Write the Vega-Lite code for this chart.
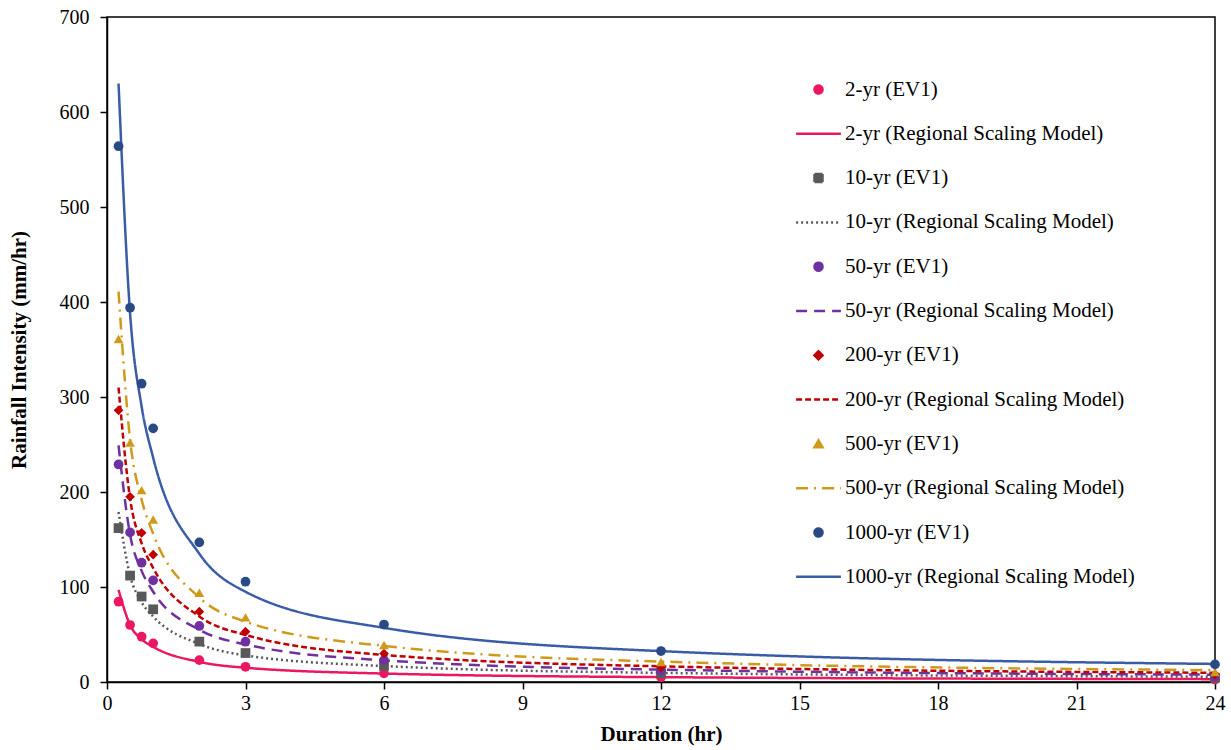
{
  "$schema": "https://vega.github.io/schema/vega-lite/v6.json",
  "width": 1108,
  "height": 665,
  "autosize": {"type": "none"},
  "padding": {"left": 107, "top": 17, "right": 16, "bottom": 68},
  "background": "white",
  "config": {
    "view": {"stroke": "black", "strokeWidth": 1.5},
    "font": "Liberation Serif",
    "axis": {
      "domainColor": "black", "domainWidth": 1.5, "tickColor": "black", "tickWidth": 1.5, "tickSize": 7,
      "labelColor": "black", "labelFont": "Liberation Serif", "labelFontSize": 20,
      "titleColor": "black", "titleFont": "Liberation Serif", "titleFontSize": 21, "titleFontWeight": "bold",
      "grid": false, "labelFlush": false
    }
  },
  "data": {"values": [
    {"series": "2-yr (EV1)", "type": "EV1", "d": 0.25, "v": 84.5},
    {"series": "2-yr (EV1)", "type": "EV1", "d": 0.5, "v": 60},
    {"series": "2-yr (EV1)", "type": "EV1", "d": 0.75, "v": 47.7},
    {"series": "2-yr (EV1)", "type": "EV1", "d": 1, "v": 40.7},
    {"series": "2-yr (EV1)", "type": "EV1", "d": 2, "v": 23},
    {"series": "2-yr (EV1)", "type": "EV1", "d": 3, "v": 16},
    {"series": "2-yr (EV1)", "type": "EV1", "d": 6, "v": 9.1},
    {"series": "2-yr (EV1)", "type": "EV1", "d": 12, "v": 5},
    {"series": "2-yr (EV1)", "type": "EV1", "d": 24, "v": 2.5},
    {"series": "10-yr (EV1)", "type": "EV1", "d": 0.25, "v": 162},
    {"series": "10-yr (EV1)", "type": "EV1", "d": 0.5, "v": 112},
    {"series": "10-yr (EV1)", "type": "EV1", "d": 0.75, "v": 90},
    {"series": "10-yr (EV1)", "type": "EV1", "d": 1, "v": 76.5},
    {"series": "10-yr (EV1)", "type": "EV1", "d": 2, "v": 42.5},
    {"series": "10-yr (EV1)", "type": "EV1", "d": 3, "v": 30.5},
    {"series": "10-yr (EV1)", "type": "EV1", "d": 6, "v": 17},
    {"series": "10-yr (EV1)", "type": "EV1", "d": 12, "v": 9},
    {"series": "10-yr (EV1)", "type": "EV1", "d": 24, "v": 4.5},
    {"series": "50-yr (EV1)", "type": "EV1", "d": 0.25, "v": 229},
    {"series": "50-yr (EV1)", "type": "EV1", "d": 0.5, "v": 157.5},
    {"series": "50-yr (EV1)", "type": "EV1", "d": 0.75, "v": 125.6},
    {"series": "50-yr (EV1)", "type": "EV1", "d": 1, "v": 107},
    {"series": "50-yr (EV1)", "type": "EV1", "d": 2, "v": 59},
    {"series": "50-yr (EV1)", "type": "EV1", "d": 3, "v": 42.4},
    {"series": "50-yr (EV1)", "type": "EV1", "d": 6, "v": 23},
    {"series": "50-yr (EV1)", "type": "EV1", "d": 12, "v": 12},
    {"series": "50-yr (EV1)", "type": "EV1", "d": 24, "v": 6},
    {"series": "200-yr (EV1)", "type": "EV1", "d": 0.25, "v": 286},
    {"series": "200-yr (EV1)", "type": "EV1", "d": 0.5, "v": 195},
    {"series": "200-yr (EV1)", "type": "EV1", "d": 0.75, "v": 157},
    {"series": "200-yr (EV1)", "type": "EV1", "d": 1, "v": 134},
    {"series": "200-yr (EV1)", "type": "EV1", "d": 2, "v": 74},
    {"series": "200-yr (EV1)", "type": "EV1", "d": 3, "v": 53},
    {"series": "200-yr (EV1)", "type": "EV1", "d": 6, "v": 30},
    {"series": "200-yr (EV1)", "type": "EV1", "d": 12, "v": 15.5},
    {"series": "200-yr (EV1)", "type": "EV1", "d": 24, "v": 8},
    {"series": "500-yr (EV1)", "type": "EV1", "d": 0.25, "v": 361},
    {"series": "500-yr (EV1)", "type": "EV1", "d": 0.5, "v": 252},
    {"series": "500-yr (EV1)", "type": "EV1", "d": 0.75, "v": 202},
    {"series": "500-yr (EV1)", "type": "EV1", "d": 1, "v": 171},
    {"series": "500-yr (EV1)", "type": "EV1", "d": 2, "v": 94},
    {"series": "500-yr (EV1)", "type": "EV1", "d": 3, "v": 68},
    {"series": "500-yr (EV1)", "type": "EV1", "d": 6, "v": 39},
    {"series": "500-yr (EV1)", "type": "EV1", "d": 12, "v": 21},
    {"series": "500-yr (EV1)", "type": "EV1", "d": 24, "v": 10.5},
    {"series": "1000-yr (EV1)", "type": "EV1", "d": 0.25, "v": 564},
    {"series": "1000-yr (EV1)", "type": "EV1", "d": 0.5, "v": 394},
    {"series": "1000-yr (EV1)", "type": "EV1", "d": 0.75, "v": 314},
    {"series": "1000-yr (EV1)", "type": "EV1", "d": 1, "v": 267},
    {"series": "1000-yr (EV1)", "type": "EV1", "d": 2, "v": 147},
    {"series": "1000-yr (EV1)", "type": "EV1", "d": 3, "v": 105.6},
    {"series": "1000-yr (EV1)", "type": "EV1", "d": 6, "v": 60.5},
    {"series": "1000-yr (EV1)", "type": "EV1", "d": 12, "v": 32.6},
    {"series": "1000-yr (EV1)", "type": "EV1", "d": 24, "v": 18.5},

    {"series": "2-yr (Regional Scaling Model)", "type": "model", "d": 0.25, "v": 97},
    {"series": "2-yr (Regional Scaling Model)", "type": "model", "d": 0.5, "v": 60},
    {"series": "2-yr (Regional Scaling Model)", "type": "model", "d": 0.75, "v": 45},
    {"series": "2-yr (Regional Scaling Model)", "type": "model", "d": 1, "v": 37},
    {"series": "2-yr (Regional Scaling Model)", "type": "model", "d": 2, "v": 21.2},
    {"series": "2-yr (Regional Scaling Model)", "type": "model", "d": 3, "v": 15},
    {"series": "2-yr (Regional Scaling Model)", "type": "model", "d": 6, "v": 8.9},
    {"series": "2-yr (Regional Scaling Model)", "type": "model", "d": 12, "v": 5.1},
    {"series": "2-yr (Regional Scaling Model)", "type": "model", "d": 24, "v": 3},
    {"series": "10-yr (Regional Scaling Model)", "type": "model", "d": 0.25, "v": 179},
    {"series": "10-yr (Regional Scaling Model)", "type": "model", "d": 0.5, "v": 112},
    {"series": "10-yr (Regional Scaling Model)", "type": "model", "d": 0.75, "v": 84},
    {"series": "10-yr (Regional Scaling Model)", "type": "model", "d": 1, "v": 69},
    {"series": "10-yr (Regional Scaling Model)", "type": "model", "d": 2, "v": 40},
    {"series": "10-yr (Regional Scaling Model)", "type": "model", "d": 3, "v": 28},
    {"series": "10-yr (Regional Scaling Model)", "type": "model", "d": 6, "v": 16.8},
    {"series": "10-yr (Regional Scaling Model)", "type": "model", "d": 12, "v": 9.6},
    {"series": "10-yr (Regional Scaling Model)", "type": "model", "d": 24, "v": 5.6},
    {"series": "50-yr (Regional Scaling Model)", "type": "model", "d": 0.25, "v": 249},
    {"series": "50-yr (Regional Scaling Model)", "type": "model", "d": 0.5, "v": 155},
    {"series": "50-yr (Regional Scaling Model)", "type": "model", "d": 0.75, "v": 117},
    {"series": "50-yr (Regional Scaling Model)", "type": "model", "d": 1, "v": 95},
    {"series": "50-yr (Regional Scaling Model)", "type": "model", "d": 2, "v": 55},
    {"series": "50-yr (Regional Scaling Model)", "type": "model", "d": 3, "v": 39.5},
    {"series": "50-yr (Regional Scaling Model)", "type": "model", "d": 6, "v": 22.8},
    {"series": "50-yr (Regional Scaling Model)", "type": "model", "d": 12, "v": 13},
    {"series": "50-yr (Regional Scaling Model)", "type": "model", "d": 24, "v": 7.7},
    {"series": "200-yr (Regional Scaling Model)", "type": "model", "d": 0.25, "v": 310},
    {"series": "200-yr (Regional Scaling Model)", "type": "model", "d": 0.5, "v": 193},
    {"series": "200-yr (Regional Scaling Model)", "type": "model", "d": 0.75, "v": 146},
    {"series": "200-yr (Regional Scaling Model)", "type": "model", "d": 1, "v": 120},
    {"series": "200-yr (Regional Scaling Model)", "type": "model", "d": 2, "v": 69},
    {"series": "200-yr (Regional Scaling Model)", "type": "model", "d": 3, "v": 49.5},
    {"series": "200-yr (Regional Scaling Model)", "type": "model", "d": 6, "v": 28.5},
    {"series": "200-yr (Regional Scaling Model)", "type": "model", "d": 12, "v": 16.5},
    {"series": "200-yr (Regional Scaling Model)", "type": "model", "d": 24, "v": 9.7},
    {"series": "500-yr (Regional Scaling Model)", "type": "model", "d": 0.25, "v": 411},
    {"series": "500-yr (Regional Scaling Model)", "type": "model", "d": 0.5, "v": 255},
    {"series": "500-yr (Regional Scaling Model)", "type": "model", "d": 0.75, "v": 192},
    {"series": "500-yr (Regional Scaling Model)", "type": "model", "d": 1, "v": 156},
    {"series": "500-yr (Regional Scaling Model)", "type": "model", "d": 2, "v": 89},
    {"series": "500-yr (Regional Scaling Model)", "type": "model", "d": 3, "v": 63.5},
    {"series": "500-yr (Regional Scaling Model)", "type": "model", "d": 6, "v": 38},
    {"series": "500-yr (Regional Scaling Model)", "type": "model", "d": 12, "v": 21.5},
    {"series": "500-yr (Regional Scaling Model)", "type": "model", "d": 24, "v": 12.5},
    {"series": "1000-yr (Regional Scaling Model)", "type": "model", "d": 0.25, "v": 630},
    {"series": "1000-yr (Regional Scaling Model)", "type": "model", "d": 0.5, "v": 388},
    {"series": "1000-yr (Regional Scaling Model)", "type": "model", "d": 0.75, "v": 290},
    {"series": "1000-yr (Regional Scaling Model)", "type": "model", "d": 1, "v": 236},
    {"series": "1000-yr (Regional Scaling Model)", "type": "model", "d": 2, "v": 135},
    {"series": "1000-yr (Regional Scaling Model)", "type": "model", "d": 3, "v": 95},
    {"series": "1000-yr (Regional Scaling Model)", "type": "model", "d": 6, "v": 57},
    {"series": "1000-yr (Regional Scaling Model)", "type": "model", "d": 12, "v": 32.5},
    {"series": "1000-yr (Regional Scaling Model)", "type": "model", "d": 24, "v": 19}
  ]},
  "encoding": {
    "x": {"field": "d", "type": "quantitative",
      "scale": {"domain": [0, 24], "nice": false},
      "axis": {"title": "Duration (hr)", "values": [0, 3, 6, 9, 12, 15, 18, 21, 24], "labelPadding": 4, "titlePadding": 10}},
    "y": {"field": "v", "type": "quantitative",
      "scale": {"domain": [0, 700], "nice": false},
      "axis": {"title": "Rainfall Intensity (mm/hr)", "values": [0, 100, 200, 300, 400, 500, 600, 700], "labelPadding": 11, "titlePadding": 30}},
    "color": {"field": "series", "type": "nominal",
      "scale": {
        "domain": ["2-yr (EV1)", "2-yr (Regional Scaling Model)", "10-yr (EV1)", "10-yr (Regional Scaling Model)", "50-yr (EV1)", "50-yr (Regional Scaling Model)", "200-yr (EV1)", "200-yr (Regional Scaling Model)", "500-yr (EV1)", "500-yr (Regional Scaling Model)", "1000-yr (EV1)", "1000-yr (Regional Scaling Model)"],
        "range": ["#EB1763", "#EB1763", "#595959", "#595959", "#7030A0", "#7030A0", "#C00000", "#C00000", "#CF9A1B", "#CF9A1B", "#2A4A86", "#3A5CA6"]
      },
      "legend": {
        "orient": "none", "legendX": 701, "legendY": 62, "title": null,
        "padding": 0, "symbolSize": 64, "symbolStrokeWidth": 2.5,
        "labelFont": "Liberation Serif", "labelFontSize": 21, "labelColor": "black",
        "labelOffset": 16, "rowPadding": 22.3, "labelLimit": 400
      }
    }
  },
  "layer": [
    {
      "transform": [{"filter": "datum.type === 'model'"}],
      "mark": {"type": "line", "interpolate": "monotone", "strokeWidth": 2.5},
      "encoding": {
        "strokeDash": {"field": "series", "type": "nominal",
          "scale": {
            "domain": ["2-yr (EV1)", "2-yr (Regional Scaling Model)", "10-yr (EV1)", "10-yr (Regional Scaling Model)", "50-yr (EV1)", "50-yr (Regional Scaling Model)", "200-yr (EV1)", "200-yr (Regional Scaling Model)", "500-yr (EV1)", "500-yr (Regional Scaling Model)", "1000-yr (EV1)", "1000-yr (Regional Scaling Model)"],
            "range": [[1, 0], [1, 0], [1, 0], [2, 3], [1, 0], [11, 7], [1, 0], [6, 3], [1, 0], [12, 6, 2, 6], [1, 0], [1, 0]]
          }
        }
      }
    },
    {
      "transform": [{"filter": "datum.type === 'EV1'"}],
      "mark": {"type": "point", "filled": true, "opacity": 1, "size": 95},
      "encoding": {
        "shape": {"field": "series", "type": "nominal",
          "scale": {
            "domain": ["2-yr (EV1)", "2-yr (Regional Scaling Model)", "10-yr (EV1)", "10-yr (Regional Scaling Model)", "50-yr (EV1)", "50-yr (Regional Scaling Model)", "200-yr (EV1)", "200-yr (Regional Scaling Model)", "500-yr (EV1)", "500-yr (Regional Scaling Model)", "1000-yr (EV1)", "1000-yr (Regional Scaling Model)"],
            "range": ["circle", "M-5.6,0H5.6", "square", "M-5.6,0H5.6", "circle", "M-5.6,0H5.6", "diamond", "M-5.6,0H5.6", "triangle-up", "M-5.6,0H5.6", "circle", "M-5.6,0H5.6"]
          }
        }
      }
    }
  ]
}
